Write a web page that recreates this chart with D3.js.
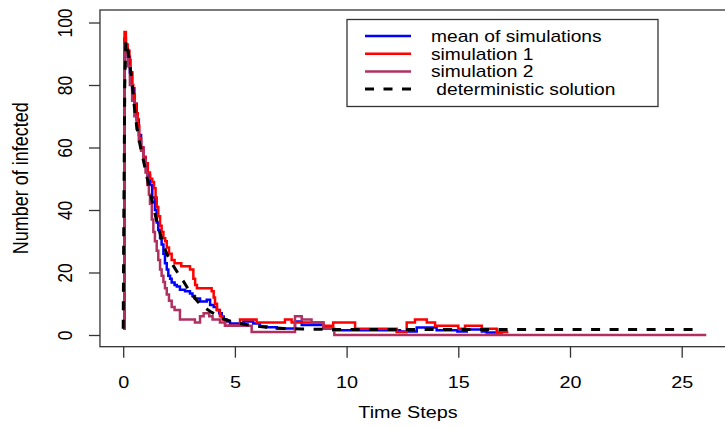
<!DOCTYPE html>
<html>
<head>
<meta charset="utf-8">
<script src="https://cdn.jsdelivr.net/npm/d3@7"></script>
<style>
  body { margin: 0; background: #fff; }
  text { font-family: "Liberation Sans", Arial, Helvetica, sans-serif; fill: #000; }
</style>
</head>
<body>
<div id="vis"></div>
<script>
// ---- data: [time, infected] ----
const meanSim = [
  [0,2],[0.06,95],[0.12,92],[0.2,89],[0.3,84],[0.4,79],[0.5,74],[0.6,69],[0.7,64],[0.8,60],
  [0.9,57],[1.0,54],[1.1,51],[1.2,48],[1.3,44],[1.42,40],[1.5,36],[1.57,33.6],[1.65,31],[1.72,29],
  [1.8,26],[1.87,23],[1.95,21],[2.02,19],[2.1,18],[2.17,16.8],[2.3,16],[2.4,15.5],[2.54,14.5],[2.77,14],
  [2.99,13.3],[3.1,12.5],[3.21,11.7],[3.44,10.7],[3.74,11.3],[3.89,9.6],[4.05,9],[4.19,8],[4.3,7],[4.41,5.9],
  [4.5,5],[4.63,4.3],[4.78,3.7],[5.38,4.3],[5.82,3.7],[6.12,2.7],[6.42,2.5],[6.87,2.1],[7.69,4.3],[7.99,3.2],
  [8.96,2.1],[9.4,1.5],[12.39,1.1],[13.14,2.4],[14.03,1.5],[14.96,1.1],[15.38,1.8],[16.05,1.1],[16.27,0.8],[17.0,0.8]
];

const sim1 = [
  [0,2],[0.06,97],[0.12,93],[0.2,91],[0.28,88],[0.33,84],[0.4,80],[0.45,77],[0.52,74],[0.57,71],
  [0.65,67],[0.72,63],[0.8,60],[0.9,57],[1.0,55],[1.1,52],[1.2,50],[1.3,49],[1.38,47],[1.45,44],
  [1.5,41],[1.57,38],[1.65,35],[1.72,33],[1.8,31],[1.88,30],[1.95,28],[2.05,26],[2.17,24],[2.3,23],
  [2.6,22],[2.99,21],[3.14,18],[3.22,16],[3.3,15],[3.96,14],[4.05,12],[4.11,10],[4.2,8],[4.33,6],
  [4.45,5],[4.56,3],[5.23,5],[5.97,4],[7.24,5],[7.54,4],[8.96,3],[9.4,4],[10.38,2],[12.24,1],
  [12.69,4],[13.06,5],[13.59,4],[13.96,3],[15.0,2],[15.3,3],[16.05,2],[16.72,1],[17.24,1]
];

const sim2 = [
  [0,2],[0.06,93],[0.12,90],[0.2,86],[0.3,80],[0.4,75],[0.5,70],[0.6,66],[0.7,62],[0.8,59],
  [0.9,56],[1.0,52],[1.08,48],[1.15,45],[1.2,42],[1.28,37],[1.35,33],[1.42,30],[1.5,27],[1.57,24],
  [1.65,21],[1.72,19],[1.8,17],[1.87,15],[1.95,13],[2.05,11],[2.17,9],[2.3,8],[2.54,5],[3.21,4],
  [3.44,6],[3.6,7],[3.85,6],[4.0,5],[4.33,4],[4.56,3],[5.75,1],[7.69,6],[7.99,5],[8.43,4],
  [8.96,2],[9.45,0],[26.1,0]
];

const deterministic = [
  [0,2],[0.03,40],[0.07,80],[0.12,94],[0.16,94],[0.25,89],[0.38,82],[0.5,73],[0.6,67],[0.75,61],
  [0.9,56],[1.05,51],[1.2,46],[1.35,41],[1.5,36.5],[1.65,32.5],[1.8,29],[1.95,26],[2.1,24],[2.24,22.2],
  [2.45,19.8],[2.69,17.3],[2.9,14.8],[3.14,12.4],[3.35,10.6],[3.59,9],[3.9,7.5],[4.19,6.3],[4.4,5.4],[4.63,4.8],
  [4.9,4.2],[5.2,3.7],[5.8,3],[6.4,2.5],[7.2,2.1],[8,1.9],[9,1.8],[10,1.8],[25.6,1.8]
];

const xTicks = [0, 5, 10, 15, 20, 25];
const yTicks = [0, 20, 40, 60, 80, 100];
const legendLabels = ["mean of simulations", "simulation 1", "simulation 2", " deterministic solution"];
const seriesColors = ["#0000ff", "#ff0000", "#b03060", "#000000"];

// ---- dimensions ----
const width = 725, height = 428;
const stretch = 1.2;  // the reference text is a bit wide

const svg = d3.select("#vis").append("svg")
  .attr("width", width)
  .attr("height", height);

// scales: pixel anchors taken from the tick marks
const x = d3.scaleLinear().domain([0, 25]).range([123.2, 681.7]);
const y = d3.scaleLinear().domain([0, 100]).range([335, 22.5]);

const xMin = -1.04, xMax = 27.04, yMin = -3.74, yMax = 104;

// ---- axes ----
const xAxis = svg.append("g")
  .attr("transform", `translate(0, ${y(yMin)})`)
  .call(d3.axisBottom(x).tickValues(xTicks).tickSize(11).tickSizeOuter(0));
xAxis.selectAll("text")
  .attr("y", 41).attr("dy", null)
  .attr("font-size", 16.5)
  .attr("transform", `scale(${stretch},1)`);

const yAxis = svg.append("g")
  .attr("transform", `translate(${x(xMin)}, 0)`)
  .call(d3.axisLeft(y).tickValues(yTicks).tickSize(11).tickSizeOuter(0));
yAxis.selectAll("text")
  .attr("x", null).attr("dy", null)
  .attr("text-anchor", "middle")
  .attr("font-size", 17.5)
  .attr("transform", `translate(-28,0) scale(${stretch},1) rotate(-90)`);

svg.selectAll(".domain").remove();
svg.selectAll(".tick line").attr("stroke", "#333").attr("stroke-width", 1.3);

// box
svg.append("rect")
  .attr("x", x(xMin)).attr("y", y(yMax))
  .attr("width", x(xMax) - x(xMin))
  .attr("height", y(yMin) - y(yMax))
  .attr("fill", "none")
  .attr("stroke", "#333")
  .attr("stroke-width", 1.3);

// axis titles
svg.append("text")
  .attr("text-anchor", "middle")
  .attr("font-size", 16.5)
  .attr("transform", `translate(408, 418) scale(${stretch},1)`)
  .text("Time Steps");

svg.append("text")
  .attr("text-anchor", "middle")
  .attr("font-size", 18)
  .attr("transform", `translate(28, ${(y(yMin) + y(yMax)) / 2}) scale(${stretch},1) rotate(-90)`)
  .text("Number of infected");

// ---- lines ----
const stepLine = d3.line()
  .x(d => x(d[0]))
  .y(d => y(d[1]))
  .curve(d3.curveStepAfter);

const smoothLine = d3.line()
  .x(d => x(d[0]))
  .y(d => y(d[1]));

const plot = svg.append("g");

[meanSim, sim1, sim2].forEach((s, i) => {
  plot.append("path")
    .datum(s)
    .attr("d", stepLine)
    .attr("fill", "none")
    .attr("stroke", seriesColors[i])
    .attr("stroke-width", 2.5);
});

plot.append("path")
  .datum(deterministic)
  .attr("d", smoothLine)
  .attr("fill", "none")
  .attr("stroke", "#000")
  .attr("stroke-width", 3)
  .attr("stroke-dasharray", "9,9.5");

// ---- legend ----
const legend = svg.append("g");
legend.append("rect")
  .attr("x", 347).attr("y", 19.5)
  .attr("width", 311).attr("height", 87)
  .attr("fill", "#fff")
  .attr("stroke", "#333")
  .attr("stroke-width", 1.3);

legendLabels.forEach((label, i) => {
  const ly = 36 + i * 17.7;
  legend.append("line")
    .attr("x1", 365).attr("x2", 411)
    .attr("y1", ly).attr("y2", ly)
    .attr("stroke", seriesColors[i])
    .attr("stroke-width", i === 3 ? 3 : 2.5)
    .attr("stroke-dasharray", i === 3 ? "9,9.5" : null);
  legend.append("text")
    .attr("font-size", 16)
    .attr("xml:space", "preserve")
    .attr("transform", `translate(431, ${ly + 6}) scale(${stretch},1)`)
    .text(label);
});
</script>
</body>
</html>
